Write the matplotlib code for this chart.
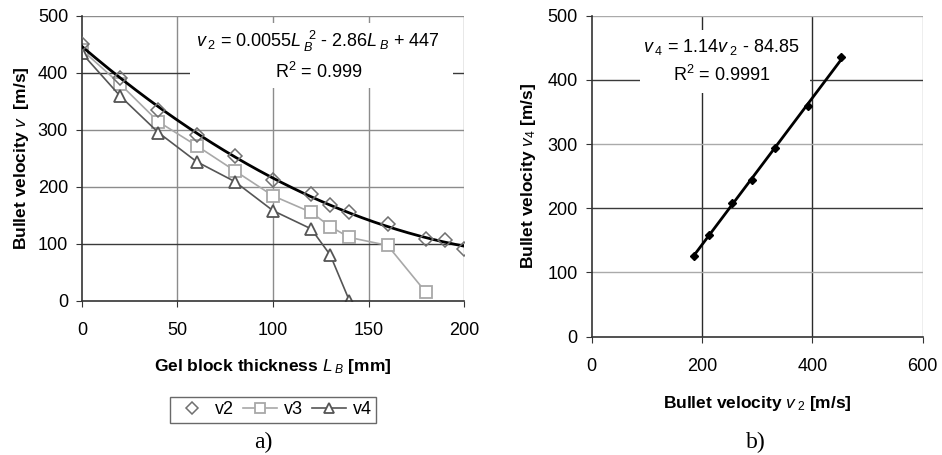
import matplotlib
matplotlib.use("Agg")
import matplotlib.pyplot as plt
from matplotlib.patches import Rectangle
import numpy as np

plt.rcParams["font.family"] = ["Liberation Sans", "DejaVu Sans"]
plt.rcParams["mathtext.fontset"] = "custom"
plt.rcParams["mathtext.rm"] = "Liberation Sans"
plt.rcParams["mathtext.it"] = "Liberation Sans:italic"
plt.rcParams["mathtext.bf"] = "Liberation Sans:bold"

# data
thickness_v2 = [0, 20, 40, 60, 80, 100, 120, 130, 140, 160, 180, 190, 200]
v2 = [451, 391, 334, 290, 254, 212, 188, 168, 155, 134, 108, 107, 90]
thickness_v3 = [0, 20, 40, 60, 80, 100, 120, 130, 140, 160, 180]
v3 = [440, 380, 314, 272, 228, 184, 155, 130, 111, 97, 15]
thickness_v4 = [0, 20, 40, 60, 80, 100, 120, 130, 140]
v4 = [434, 359, 295, 244, 209, 158, 126, 80, 0]

# v4 vs v2 pairs (L = 0 .. 120 mm)
pair_v2 = [452, 392, 333, 290, 255, 213, 185]
pair_v4 = [435, 359, 294, 244, 209, 159, 126]

fig = plt.figure(figsize=(9.42, 4.55), dpi=100)

# ---- a) ----
ax = fig.add_axes((0.0870, 0.3391, 0.4056, 0.6264))
ax.set_xlim(0, 200)
ax.set_ylim(0, 500)
ax.set_xticks([0, 50, 100, 150, 200])
ax.set_yticks([0, 100, 200, 300, 400, 500])
ax.grid(True, color="#8c8c8c", lw=1.0)
for i, line in enumerate(ax.get_ygridlines()):
    if i in (1, 4):
        line.set_color("#3a3a3a")
ax.get_xgridlines()[0].set_visible(False)
ax.get_ygridlines()[0].set_visible(False)
ax.set_axisbelow(True)
# white box behind the trendline equation
ax.add_patch(Rectangle((56.5, 373), 137.5, 114, facecolor="white",
                       edgecolor="none", zorder=1.5))

coef = np.polyfit(thickness_v2, v2, 2)
lt = np.linspace(0, 200, 200)
ax.plot(lt, np.polyval(coef, lt), color="black", lw=2, zorder=3)
ax.plot(thickness_v3, v3, color="#a8a8a8", lw=1.2, marker="s", ms=8,
        mfc="white", mec="#a8a8a8", mew=1.3, label="v3", zorder=2)
ax.plot(thickness_v4, v4, color="#555555", lw=1.2, marker="^", ms=8,
        mfc="white", mec="#555555", mew=1.3, label="v4", zorder=2)
ax.plot(thickness_v2, v2, ls="none", marker="D", ms=7.5, mfc="none",
        mec="#707070", mew=1.1, label="v2", zorder=4)

for s in ("top", "right"):
    ax.spines[s].set_visible(False)
for s in ("left", "bottom"):
    ax.spines[s].set_color("#333333")
    ax.spines[s].set_linewidth(1.2)
ax.tick_params(labelsize=13, length=4, color="#333333", pad=6)
ax.tick_params(axis="x", pad=11)
ax.set_xlabel("Gel block thickness $L_{\\;B}$ [mm]", fontsize=12.5,
              fontweight="bold", labelpad=13)
ax.set_ylabel("Bullet velocity $v$  [m/s]", fontsize=12.5, fontweight="bold",
              labelpad=5)

ax.text(0.619, 0.908,
        "$v_{\\;2}$ = 0.0055$L_{\\;B}^{\\;\\;2}$ - 2.86$L_{\\;B}$ + 447",
        transform=ax.transAxes, ha="center", va="center", fontsize=13,
        zorder=5)
ax.text(0.619, 0.802, "R$^2$ = 0.999", transform=ax.transAxes, ha="center",
        va="center", fontsize=13, zorder=5)

h, lab = ax.get_legend_handles_labels()
order = [2, 0, 1]
leg = ax.legend([h[i] for i in order], [lab[i] for i in order], loc="upper center",
                bbox_to_anchor=(0.5, -0.305), ncol=3, fontsize=13,
                frameon=True, fancybox=False, edgecolor="#444444",
                handlelength=1.9, columnspacing=0.5, handletextpad=0.35,
                borderpad=0.25, markerscale=0.85)
leg.get_frame().set_linewidth(1.0)
fig.text(0.279, 0.028, "a)", family=["Liberation Serif"], fontsize=17,
         ha="center", va="center")

# ---- b) ----
bx = fig.add_axes((0.6281, 0.26, 0.3514, 0.7055))
bx.set_xlim(0, 600)
bx.set_ylim(0, 500)
bx.set_xticks([0, 200, 400, 600])
bx.set_yticks([0, 100, 200, 300, 400, 500])
bx.grid(True, color="#aaaaaa", lw=1.0)
for i, line in enumerate(bx.get_ygridlines()):
    if i in (2, 4):
        line.set_color("#3a3a3a")
for i, line in enumerate(bx.get_xgridlines()):
    if i in (1, 2):
        line.set_color("#2a2a2a")
bx.get_xgridlines()[0].set_visible(False)
bx.get_ygridlines()[0].set_visible(False)
bx.set_axisbelow(True)
bx.add_patch(Rectangle((87.5, 380), 308, 98, facecolor="white",
                       edgecolor="none", zorder=1.5))

lin = np.polyfit(pair_v2, pair_v4, 1)
lx = np.array([min(pair_v2), max(pair_v2)])
bx.plot(lx, np.polyval(lin, lx), color="black", lw=2, zorder=3)
bx.plot(pair_v2, pair_v4, ls="none", marker="D", ms=4, color="black", zorder=4)

for s in ("top", "right"):
    bx.spines[s].set_visible(False)
for s in ("left", "bottom"):
    bx.spines[s].set_color("#333333")
    bx.spines[s].set_linewidth(1.2)
bx.tick_params(labelsize=13, length=4, color="#333333", pad=6)
bx.tick_params(axis="x", pad=11)
bx.set_xlabel("Bullet velocity $v_{\\;2}$ [m/s]", fontsize=12.5,
              fontweight="bold", labelpad=14)
bx.set_ylabel("Bullet velocity $v_{4}$ [m/s]", fontsize=12.5,
              fontweight="bold", labelpad=7)
bx.text(0.392, 0.901, "$v_{\\;4}$ = 1.14$v_{\\;2}$ - 84.85", transform=bx.transAxes,
        ha="center", va="center", fontsize=13, zorder=5)
bx.text(0.392, 0.814, "R$^2$ = 0.9991", transform=bx.transAxes, ha="center",
        va="center", fontsize=13, zorder=5)
fig.text(0.802, 0.028, "b)", family=["Liberation Serif"], fontsize=17,
         ha="center", va="center")

fig.savefig("out.png", dpi=100, facecolor="white")
